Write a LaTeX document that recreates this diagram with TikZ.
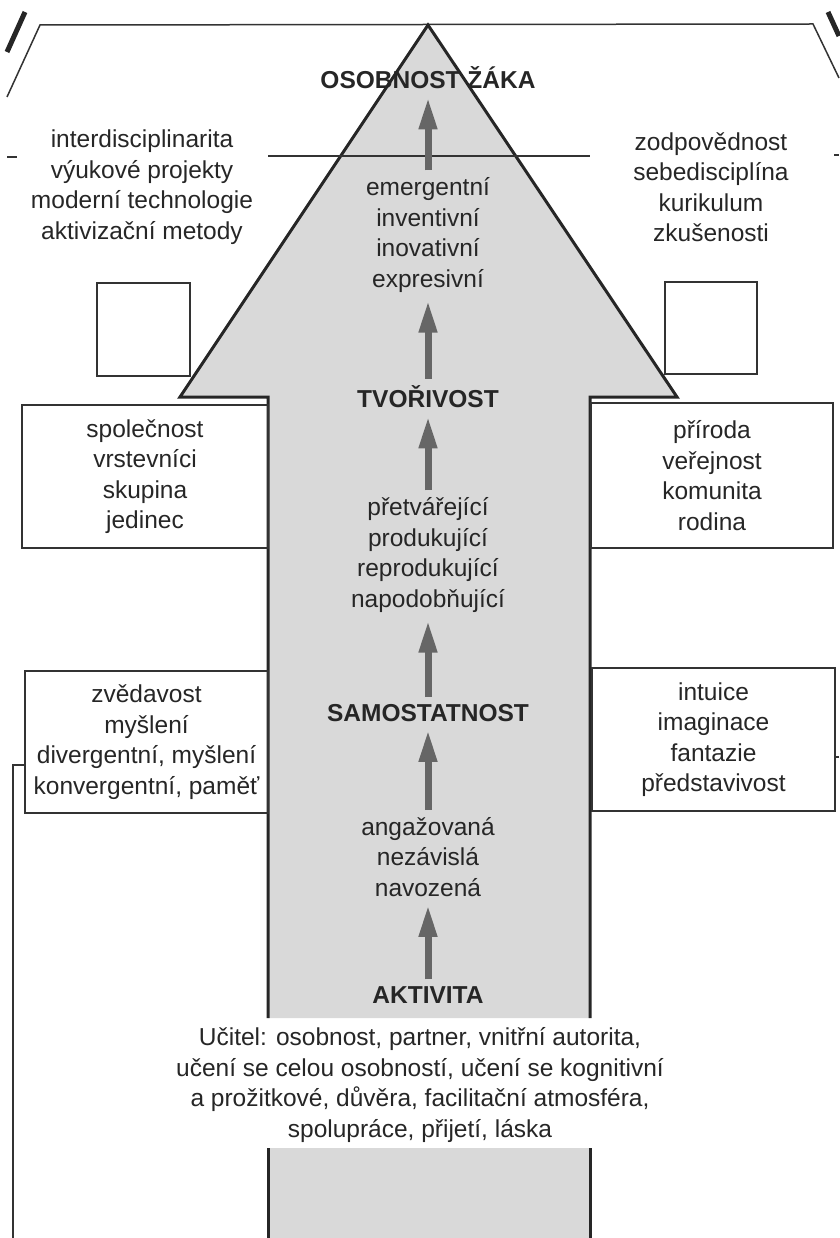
\documentclass[tikz,border=0pt]{standalone}
\usepackage{fontspec}
\setmainfont{Liberation Sans}
\usetikzlibrary{arrows.meta}

\begin{document}
\begin{tikzpicture}[x=1pt,y=-1pt,
  txt/.style={font=\fontsize{24.5}{30.5}\selectfont, text=black!85, align=center, inner sep=0pt},
  hd/.style={txt, font=\fontsize{24.5}{30.5}\selectfont\bfseries},
  frame/.style={draw=black!80, line width=1.5pt},
  txtbox/.style={txt, frame, inner sep=2pt},
  shaft/.style={draw=black!85, line width=3pt},
  up/.style={black!60, line width=7pt, -{Triangle[length=32pt,width=17pt]}, shorten <=7pt, shorten >=8pt}]
\useasboundingbox (0,0) rectangle (839,1238);

% frame
\draw[frame] (7,97) -- (40,25) -- (813,24) -- (839,78);
\draw[black!85, line width=5pt] (25,12) -- (7,52);
\draw[black!85, line width=5pt] (828,12) -- (839,36);

% big arrow
\fill[black!15] (268,1018) -- (268,397) -- (180,397) -- (428,25) -- (677,397) -- (590,397) -- (590,1018) -- cycle;
\fill[black!15] (268,1148) rectangle (590,1238);
\draw[shaft] (268,1018) -- (268,397) -- (180,397) -- (428,25) -- (677,397) -- (590,397) -- (590,1018);
\draw[shaft] (268,1148) -- (268,1238);
\draw[shaft] (590,1148) -- (590,1238);

\draw[frame] (7,157) -- (17,157);
\draw[frame] (268,156) -- (590,156);
\draw[frame] (834,155) -- (839,155);

\node[hd] (osob) at (428,78) {OSOBNOST ŽÁKA};
\node[txt] (tvor1) at (428,235) {emergentní\\inventivní\\inovativní\\expresivní};
\node[hd] (tvor) at (428,397) {TVOŘIVOST};
\node[txt] (samo1) at (428,555) {přetvářející\\produkující\\reprodukující\\napodobňující};
\node[hd] (samo) at (428,713) {SAMOSTATNOST};
\node[txt] (akt1) at (428,857) {angažovaná\\nezávislá\\navozená};
\node[hd] (akt) at (428,995) {AKTIVITA};
\node[txt] (ucit) at (420,1085) {Učitel: osobnost, partner, vnitřní autorita,\\učení se celou osobností, učení se kognitivní\\a prožitkové, důvěra, facilitační atmosféra,\\spolupráce, přijetí, láska};

\foreach \a/\b in {tvor1/osob, tvor/tvor1, samo1/tvor, samo/samo1, akt1/samo, akt/akt1}
  {\draw[up] (\a) -- (\b);}

\node[txt] (metody) at (142,187) {interdisciplinarita\\výukové projekty\\moderní technologie\\aktivizační metody};
\node[txt] (zodp) at (711,187) {zodpovědnost\\sebedisciplína\\kurikulum\\zkušenosti};

\draw[frame] (97,283) rectangle (190,376);
\draw[frame] (665,282) rectangle (757,374);

\node[txtbox, minimum width=246pt, minimum height=143pt] (spol) at (145,476.5) {společnost\\vrstevníci\\skupina\\jedinec};
\node[txtbox, minimum width=242pt, minimum height=145pt] (prir) at (712,475.5) {příroda\\veřejnost\\komunita\\rodina};
\node[txtbox, minimum width=243pt, minimum height=142pt] (zved) at (146.5,742) {zvědavost\\myšlení\\divergentní, myšlení\\konvergentní, paměť};
\node[txtbox, minimum width=243pt, minimum height=143pt] (intu) at (713.5,739.5) {intuice\\imaginace\\fantazie\\představivost};

\coordinate (lknee) at (13,765);
\coordinate (lfoot) at (13,1238);
\draw[frame] (zved.west |- lknee) -- (lknee) -- (lfoot);
\coordinate (rtick) at (839,757);
\draw[frame] (intu.east |- rtick) -- (rtick);
\end{tikzpicture}
\end{document}
